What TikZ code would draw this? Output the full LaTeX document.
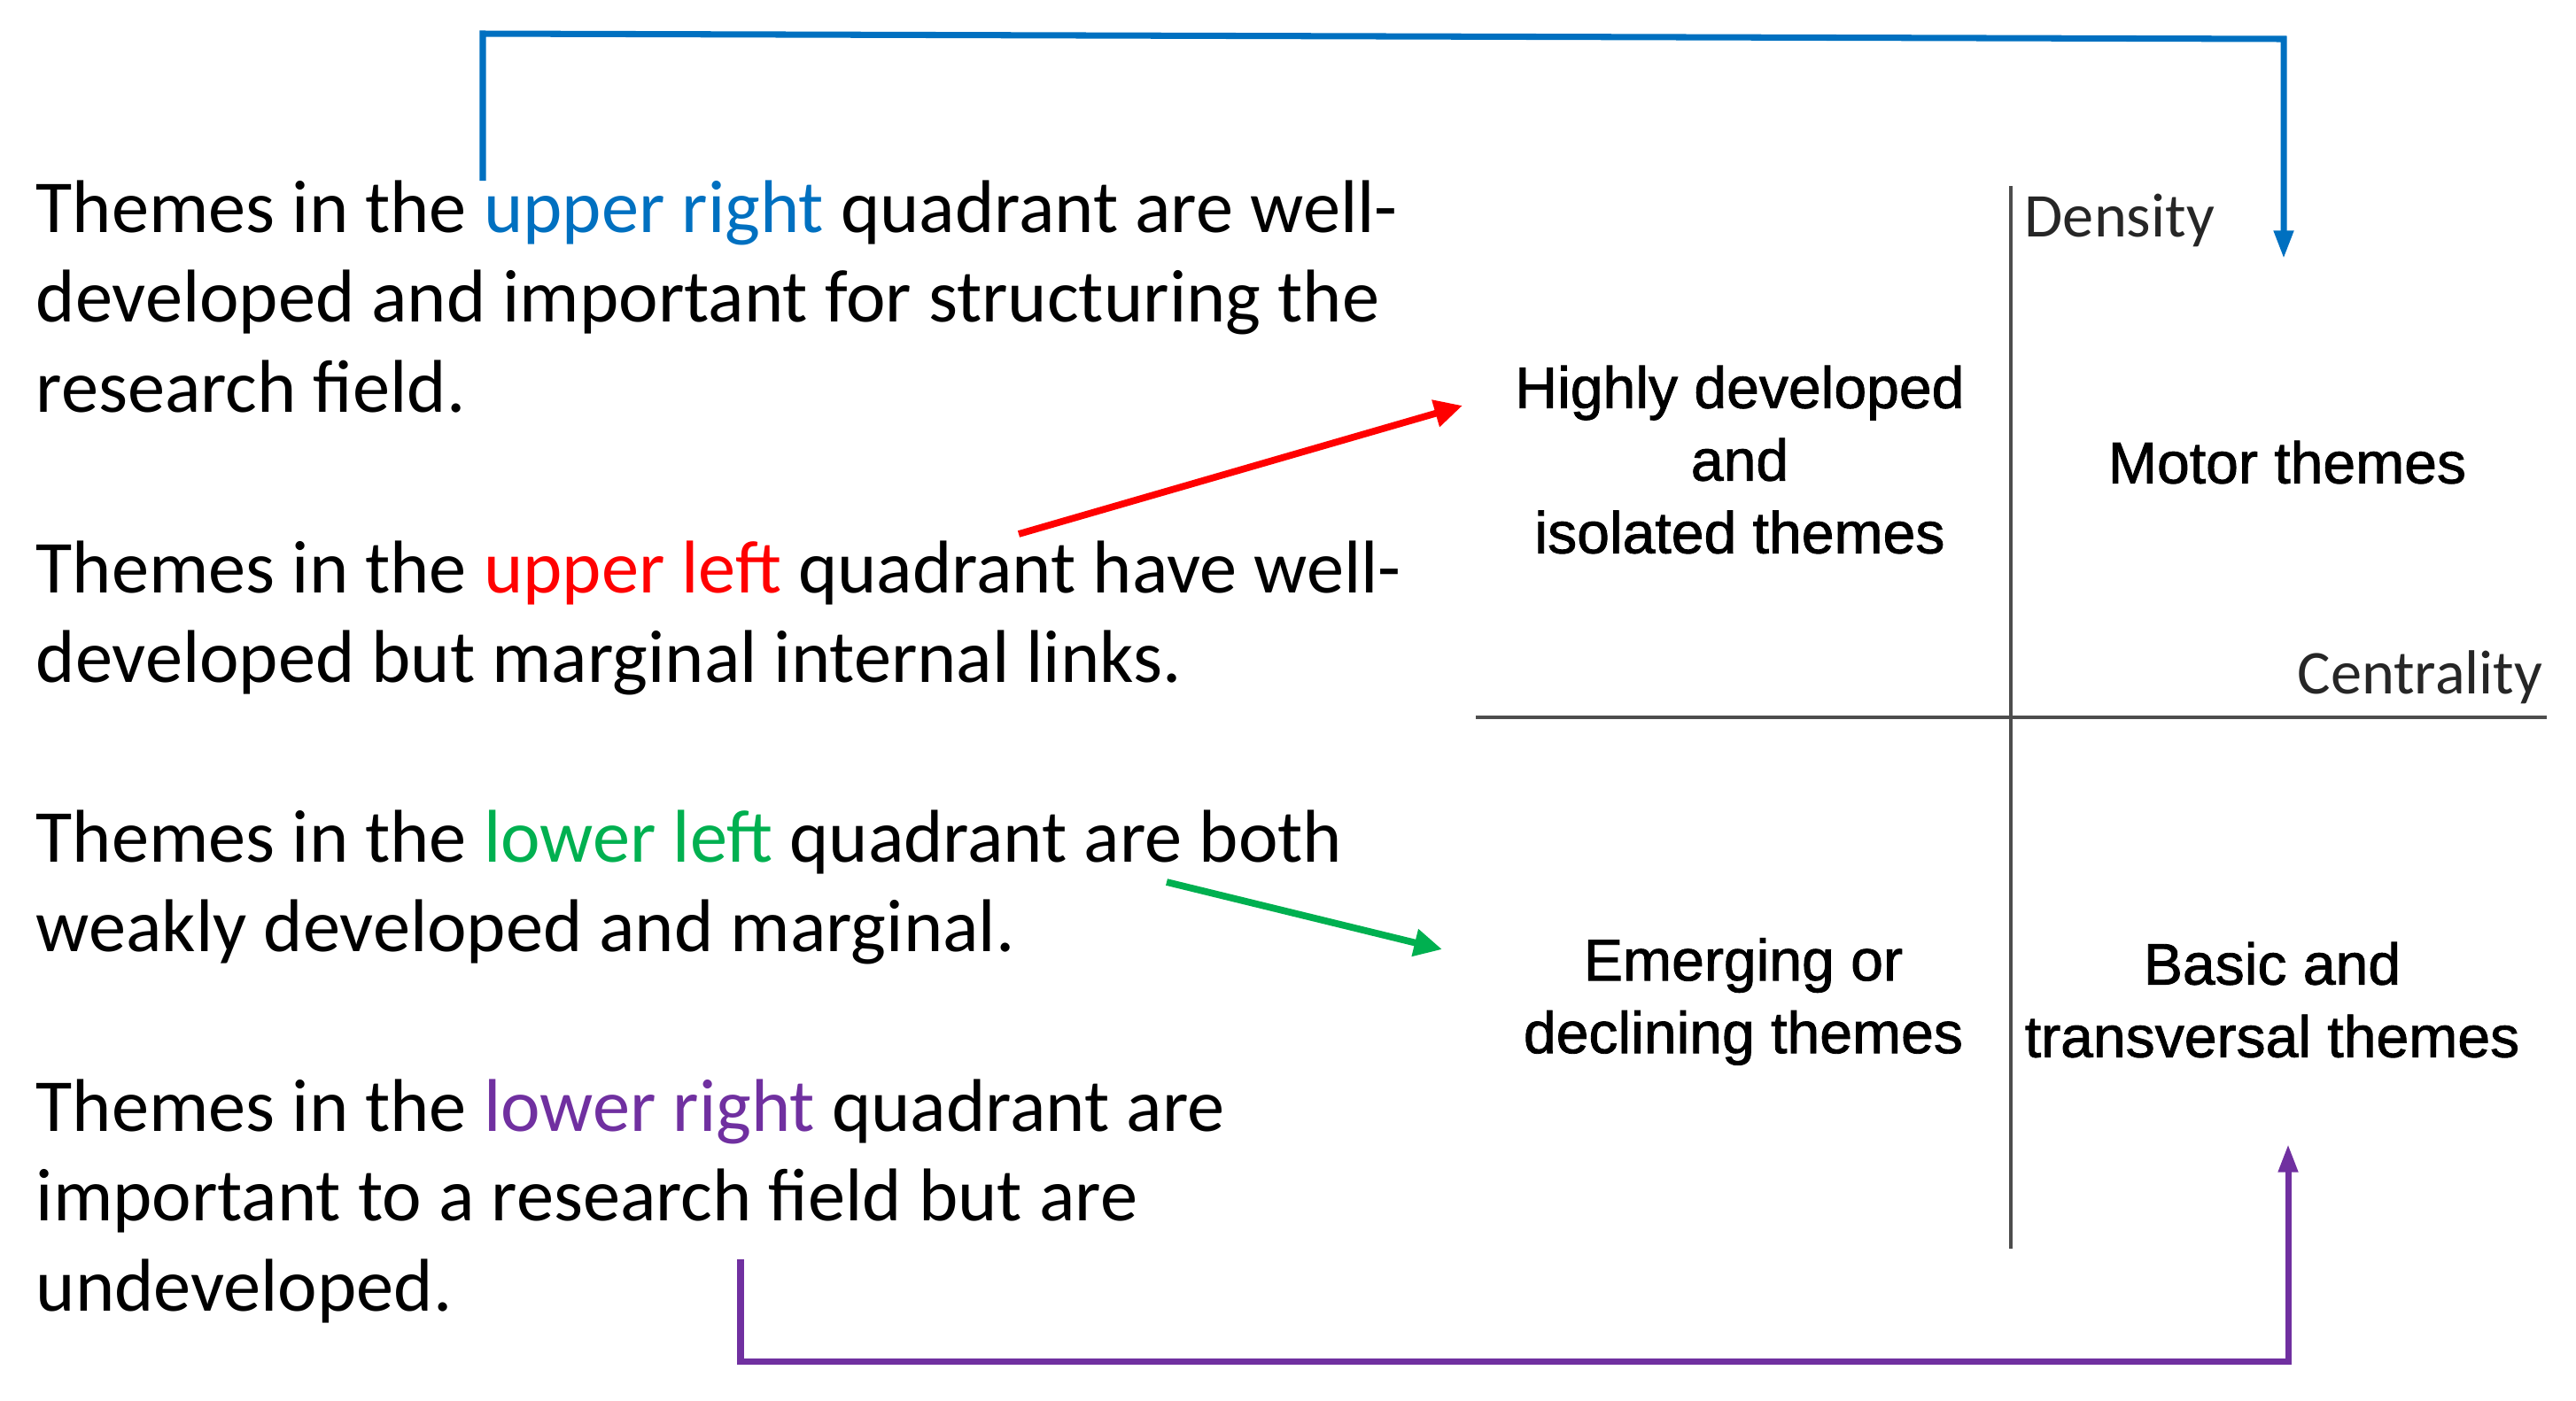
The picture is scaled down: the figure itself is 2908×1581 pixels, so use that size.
\documentclass[tikz,border=0pt]{standalone}
\usepackage{fontspec}
\setmainfont{Carlito}
\newfontfamily\quadfont[FakeBold=1.3]{Liberation Sans}
\usetikzlibrary{arrows.meta,positioning}
\definecolor{cBlue}{HTML}{0070C0}
\definecolor{cRed}{HTML}{FF0000}
\definecolor{cGreen}{HTML}{00B050}
\definecolor{cPurple}{HTML}{7030A0}
\definecolor{cAxis}{HTML}{4D4D4D}
\tikzset{
  desc/.style={anchor=north west,align=left,inner sep=0pt,font=\fontsize{24}{28.9}\selectfont},
  quad/.style={align=center,inner sep=0pt,font=\quadfont\fontsize{18.8}{23.3}\selectfont},
  axlbl/.style={inner sep=0pt,font=\fontsize{20}{24}\selectfont,text=black!85},
  axis/.style={draw=cAxis,line width=#1},
  link/.style={draw=#1,line width=2pt,-{Triangle[length=9pt,width=6pt]}},
  dlink/.style={draw=#1,line width=2.2pt,-{Triangle[length=9pt,width=8.5pt]}},
}

\begin{document}
\begin{tikzpicture}[x=0.01cm,y=-0.01cm]
  \useasboundingbox (0,0) rectangle (2908,1581);
  \node[desc] (ur) at (40,203) {Themes in the \textcolor{cBlue}{upper right} quadrant are well-\\developed and important for structuring the\\research field.};
  \node[desc] (ul) at (40,610) {Themes in the \textcolor{cRed}{upper left} quadrant have well-\\developed but marginal internal links.};
  \node[desc] (ll) at (40,914) {Themes in the \textcolor{cGreen}{lower left} quadrant are both\\weakly developed and marginal.};
  \node[desc] (lr) at (40,1218) {Themes in the \textcolor{cPurple}{lower right} quadrant are\\important to a research field but are\\undeveloped.};
  \coordinate (yTop) at (2270,210);
  \coordinate (yBot) at (2270,1410);
  \coordinate (xL) at (1666,810);
  \coordinate (xR) at (2875,810);
  \draw[axis=1pt] (yTop) -- (yBot);
  \draw[axis=1.4pt] (xL) -- (xR);
  \node[axlbl,anchor=west] (dens) at (2285,249) {Density};
  \node[axlbl,anchor=east] (cent) at (2871,765) {Centrality};
  \node[quad] (qUL) at (1964,519) {Highly developed\\and\\isolated themes};
  \node[quad] (qUR) at (2582,522) {Motor themes};
  \node[quad] (qLL) at (1968,1131) {Emerging or\\declining themes};
  \node[quad] (qLR) at (2565,1129) {Basic and\\transversal themes};
  \coordinate (bS) at (545,204);
  \coordinate (bT) at (2578,292);
  \coordinate (rS) at (1150,603);
  \coordinate (rT) at (1651,458);
  \coordinate (gS) at (1317,996);
  \coordinate (gT) at (1628,1072);
  \coordinate (pS) at (836,1422);
  \coordinate (pT) at (2583,1292);
  \draw[link=cBlue] (bS) -- (545,38) -- (2578,44) -- (bT);
  \draw[dlink=cRed] (rS) -- (rT);
  \draw[dlink=cGreen] (gS) -- (gT);
  \draw[link=cPurple] (pS) -- (836,1537) -- (2583,1537) -- (pT);
\end{tikzpicture}
\end{document}
